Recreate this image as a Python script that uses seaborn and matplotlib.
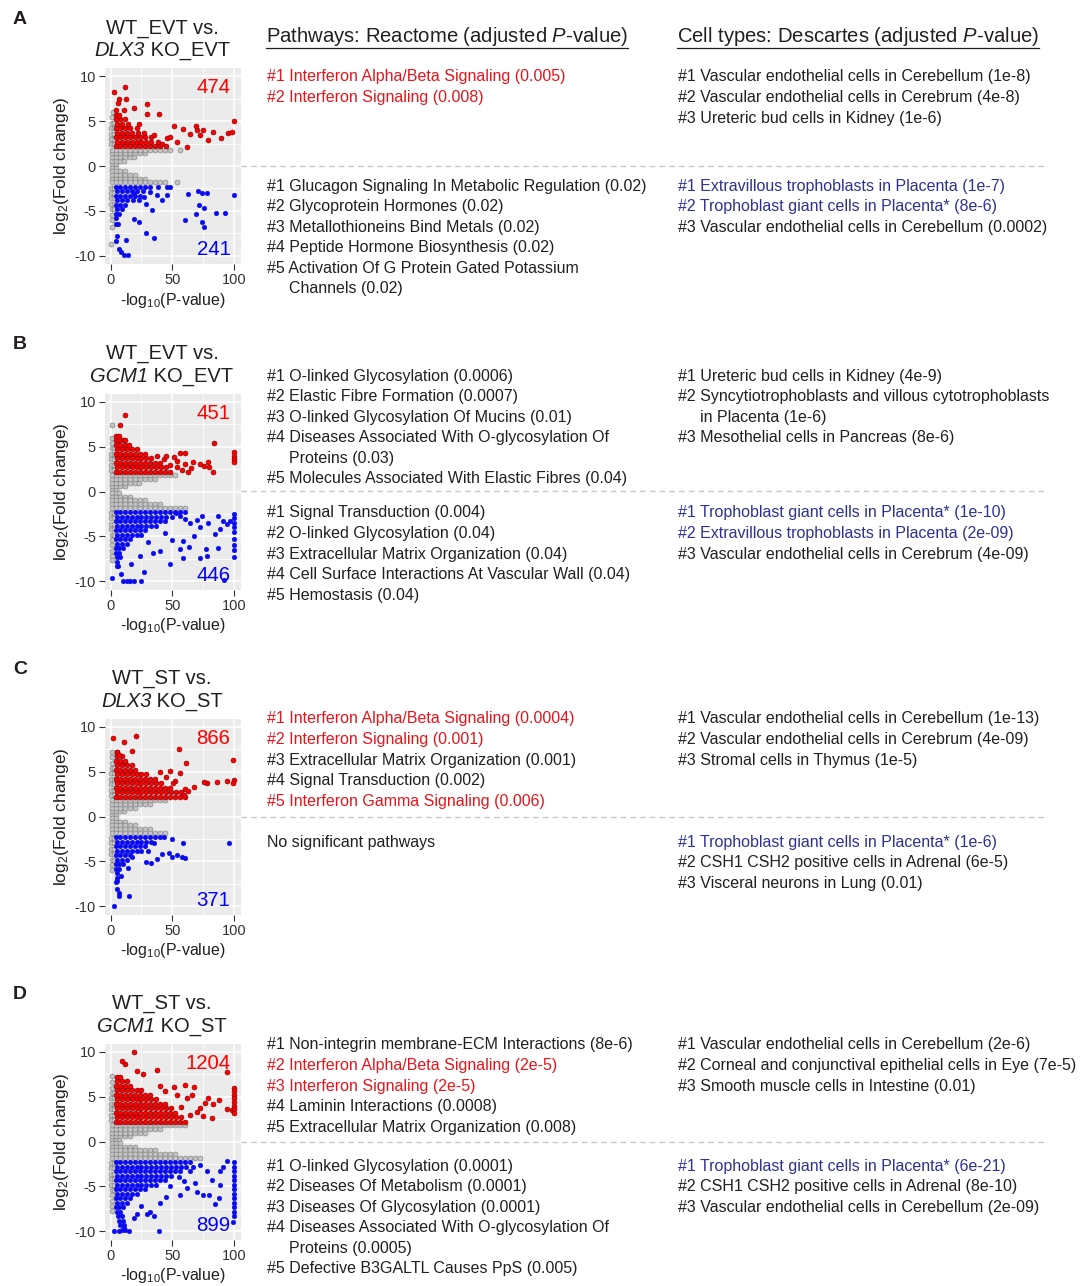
import matplotlib
matplotlib.use("Agg")
import matplotlib.pyplot as plt
import seaborn as sns
from matplotlib.lines import Line2D
from matplotlib.ticker import MultipleLocator

# fonts: Arial-like text, italic P through mathtext
plt.rcParams['font.family'] = ['Liberation Sans', 'DejaVu Sans']
plt.rcParams['mathtext.fontset'] = 'custom'
plt.rcParams['mathtext.rm'] = 'Liberation Sans'
plt.rcParams['mathtext.it'] = 'Liberation Sans:italic'
plt.rcParams['mathtext.bf'] = 'Liberation Sans:bold'
plt.rcParams['axes.unicode_minus'] = False

# ---------------- volcano data ----------------
# rows: (log2FC, [-log10 P values ...]); extras: (x, y) pairs
a_gray = [(0.2, [1, 4]), (0.6, [1, 4, 8, 11]), (1.0, [1, 4, 8, 12, 16, 19]),
          (1.4, [1, 4, 8, 12, 16, 20, 24, 28]),
          (1.8, [1, 4, 8, 12, 16, 20, 24, 28, 32, 36, 40, 44, 48, 56]),
          (2.4, [0.5, 2.5]), (3.0, [0.5, 2.5]), (3.6, [0.5, 2.5]), (4.2, [0.5, 2.5]),
          (4.8, [1, 2.5]), (5.4, [1.5]), (6.0, [2]),
          (-0.2, [1, 4]), (-0.6, [1, 4, 8, 12]), (-1.0, [1, 4, 8, 12, 16, 20]),
          (-1.4, [1, 4, 8, 12, 16, 20, 24, 28]),
          (-1.8, [1, 4, 8, 12, 16, 20, 24, 28, 32, 36, 40, 44, 54]),
          (-2.4, [0.5, 2.5]), (-3.0, [0.5, 2.5]), (-3.6, [0.5, 2.5]), (-4.2, [0.5, 2.5]),
          (-4.8, [1, 2.5]), (-5.4, [1.5]), (-6.0, [1]), (-6.8, [1]), (-8.7, [0])]
a_red = [(2.2, [4, 8, 12, 16, 20, 24, 28, 32, 36, 40, 45]),
         (2.7, [5, 9, 13, 17, 21, 25, 29, 33, 38]),
         (3.2, [4, 8, 12, 16, 20, 24, 28, 33]),
         (3.7, [5, 9, 13, 17, 22, 27]), (4.2, [4, 8, 12, 16, 21]),
         (4.7, [5, 9, 14]), (5.2, [4, 8, 12]), (5.7, [4, 7]), (6.2, [4])]
a_red_extra = [(2.7, 8.2), (12, 8.8), (7.2, 7.5), (12.6, 7.5), (5.9, 7.0), (18.8, 6.4),
               (29.5, 6.9), (10.7, 6.2), (39, 5.8), (29.5, 5.8), (22.8, 4.7), (34.8, 3.4),
               (45.6, 3.1), (48, 3.2), (53.6, 2.7), (61.7, 2.1), (41.6, 2.5), (51, 4.5),
               (58.4, 4.1), (64.3, 3.6), (70.2, 4.0), (72.4, 3.5), (74.5, 4.0), (83, 3.8),
               (79, 2.9), (89, 3.1), (95, 3.7), (98, 3.8), (100, 5.0), (69, 4.4)]
a_blue = [(-2.3, [4, 8, 12, 16, 20, 24, 28, 32, 38, 46]),
          (-2.8, [5, 9, 13, 17, 21, 26]), (-3.3, [4, 8, 12, 16, 20, 24]),
          (-3.8, [5, 9, 13, 18]), (-4.3, [4, 8, 12]), (-4.8, [5, 9]),
          (-5.3, [4, 7]), (-5.8, [4]), (-6.4, [4, 6])]
a_blue_extra = [(5, -7.8), (4.8, -8.3), (7.2, -9.2), (8.8, -9.6), (10.7, -9.9), (14.2, -9.9),
                (12.3, -8.2), (28.7, -7.5), (35.4, -8.0), (18.8, -5.9), (22.8, -6.2),
                (60, -6.0), (73.7, -6.2), (75.6, -6.8), (85, -5.2), (92.5, -5.2), (69, -5.3),
                (71.8, -4.3), (75.6, -4.7), (63, -3.1), (71, -2.8), (73.7, -3.0), (77.7, -3.0),
                (100, -3.2), (33.8, -4.9), (28.7, -4.2), (41.6, -3.8), (45.6, -3.2),
                (48.3, -2.3), (37.5, -3.2), (32, -2.9), (26.8, -3.4), (23.3, -3.8), (18.8, -3.1)]

b_gray = [(0.2, [1, 4]), (0.6, [1, 4, 8, 12]), (1.0, [1, 4, 8, 12, 16, 20, 23]),
          (1.4, [1, 4, 8, 12, 16, 20, 24, 28, 32, 36]),
          (1.8, [1, 4, 8, 12, 16, 20, 24, 28, 32, 36, 40, 44, 48, 52]),
          (2.4, [0.5, 2.5]), (3.0, [0.5, 2.5]), (3.6, [0.5, 2.5]), (4.2, [0.5, 2.5]),
          (4.8, [1, 2.5]), (5.4, [1.5]), (6.0, [1]), (7.4, [1.3]),
          (-0.2, [1, 4, 7]), (-0.6, [1, 4, 8, 12, 16]),
          (-1.0, [1, 4, 8, 12, 16, 20, 24, 28]),
          (-1.4, [1, 4, 8, 12, 16, 20, 24, 28, 32, 36, 40]),
          (-1.8, [1, 4, 8, 12, 16, 20, 24, 28, 32, 36, 40, 44, 48, 52, 56, 60]),
          (-2.4, [0.5, 2.5]), (-3.0, [0.5, 2.5]), (-3.6, [0.5, 2.5]), (-4.2, [0.5, 2.5]),
          (-4.8, [1, 2.5]), (-5.4, [1.5]), (-6.0, [1]), (-6.6, [1]), (-7.2, [1]), (-7.6, [1])]
b_red = [(2.2, [4, 8, 12, 16, 20, 24, 28, 32, 36, 40, 44, 48]),
         (2.7, [5, 9, 13, 17, 21, 25, 29, 33, 37, 41, 45]),
         (3.2, [4, 8, 12, 16, 20, 24, 28, 32, 36, 40]),
         (3.7, [5, 9, 13, 17, 21, 25, 29, 33]), (4.2, [4, 8, 12, 16, 20, 24, 28]),
         (4.7, [5, 9, 13, 17, 21]), (5.2, [4, 8, 12, 15]), (5.7, [4, 7, 10]), (6.2, [4, 7])]
b_red_extra = [(12, 8.5), (8, 7.4), (11.3, 5.7), (83.6, 5.4), (100, 4.4), (100, 4.0),
               (100, 3.6), (100, 3.3), (51, 3.8), (56, 4.3), (60, 4.3), (60.6, 3.1),
               (53.6, 2.7), (57.6, 2.4), (62.5, 2.2), (67, 3.3), (72.4, 3.1), (75.6, 2.8),
               (79, 3.3), (83, 2.2), (80, 2.7), (43, 3.6), (44.8, 4.0), (48, 2.9), (37.5, 4.0),
               (54, 3.4), (65, 2.6)]
b_blue = [(-2.3, [4, 8, 12, 16, 20, 24, 28, 32, 36, 40, 44, 48, 52, 56, 60]),
          (-2.8, [5, 9, 13, 17, 21, 25, 29, 33, 37, 41, 45, 50]),
          (-3.3, [4, 8, 12, 16, 20, 24, 28, 32, 36, 40, 44]),
          (-3.8, [5, 9, 13, 17, 21, 25, 29, 33, 37]),
          (-4.3, [4, 8, 12, 16, 20, 24, 28]), (-4.8, [5, 9, 13, 17, 21, 25]),
          (-5.3, [4, 8, 12, 16]), (-5.8, [5, 9, 13]), (-6.3, [4, 7, 10]), (-6.8, [4, 7]),
          (-7.3, [5, 8]), (-7.8, [5]), (-8.3, [6])]
b_blue_extra = [(100, -2.5), (100, -3.0), (100, -3.5), (100, -4.0), (100, -4.5), (100, -5.3),
                (100, -6.0), (100, -6.5), (100, -7.3), (84.5, -4.7), (94, -3.6), (96.5, -3.3),
                (87, -6.3), (77, -6.4), (26.8, -8.9), (16.6, -8.1), (24, -7.2), (48, -8.1),
                (49.6, -5.4), (39.7, -6.6), (34.6, -6.8), (58.4, -7.4), (72.4, -7.4),
                (77.7, -7.2), (92, -9.8), (16, -10), (13.4, -10), (18.8, -10), (24.6, -10),
                (5.4, -8.3), (1.3, -9.6), (53, -2.4), (56, -2.7), (60, -3.1), (64, -3.5),
                (70, -3.2), (74, -2.7), (79, -3.5), (87, -2.7), (91, -3.3), (88.5, -4.2),
                (67.6, -5.0), (72.4, -4.0), (58.4, -5.5), (63.8, -6.2), (56, -6.4),
                (8.5, -9.2), (10, -10), (44, -4.6), (30, -5.6)]

c_gray = [(0.2, [1, 4]), (0.6, [1, 4, 8, 11]), (1.0, [1, 4, 8, 12, 16, 20]),
          (1.4, [1, 4, 8, 12, 16, 20, 24, 28, 32]),
          (1.8, [1, 4, 8, 12, 16, 20, 24, 28, 32, 36, 40, 44]),
          (2.4, [0.5, 2.5]), (3.0, [0.5, 2.5]), (3.6, [0.5, 2.5]), (4.2, [0.5, 2.5]),
          (4.8, [0.5, 2.5]), (5.4, [1, 2.5]), (6.0, [1.5]), (6.6, [1.5]), (7.2, [1.3]),
          (-0.2, [1, 4]), (-0.6, [1, 4, 8, 12]), (-1.0, [1, 4, 8, 12, 16, 20]),
          (-1.4, [1, 4, 8, 12, 16, 20, 24, 28, 32]),
          (-1.8, [1, 4, 8, 12, 16, 20, 24, 28, 32, 36, 40, 44]),
          (-2.4, [0.5, 2.5]), (-3.0, [0.5, 2.5]), (-3.6, [0.5, 2.5]), (-4.2, [0.5, 2.5]),
          (-4.8, [1, 2.5]), (-5.4, [1.5]), (-6.0, [1])]
c_red = [(2.2, [4, 8, 12, 16, 20, 24, 28, 32, 36, 40, 44, 48, 52, 56, 60]),
         (2.7, [5, 9, 13, 17, 21, 25, 29, 33, 37, 41, 45, 49, 53, 57]),
         (3.2, [4, 8, 12, 16, 20, 24, 28, 32, 36, 40, 44, 48]),
         (3.7, [5, 9, 13, 17, 21, 25, 29, 33, 37, 41]),
         (4.2, [4, 8, 12, 16, 20, 24, 28, 32, 36]),
         (4.7, [5, 9, 13, 17, 21, 25, 29]), (5.2, [4, 8, 12, 16, 20]),
         (5.7, [5, 9, 13, 17]), (6.2, [4, 8, 12]), (6.7, [5, 9]), (7.2, [5])]
c_red_extra = [(2, 8.7), (20.4, 9.0), (10.7, 8.3), (5.4, 7.2), (17.4, 7.3), (6.7, 6.8),
               (55, 7.5), (61, 5.9), (56, 4.8), (98.7, 6.3), (100, 4.1), (99, 3.7), (94, 4.0),
               (86, 3.8), (77.7, 3.7), (75.6, 3.8), (67.6, 3.3), (60.3, 3.1), (59, 2.4),
               (52, 4.0), (50.4, 3.7), (45, 4.4), (40, 5.0), (63, 2.8), (48, 5.1)]
c_blue = [(-2.3, [4, 8, 12, 16, 20, 24, 28, 32, 36, 40]),
          (-2.8, [5, 9, 13, 17, 21, 25, 29, 33]), (-3.3, [4, 8, 12, 16, 20, 24, 28]),
          (-3.8, [5, 9, 13, 17, 21, 25]), (-4.3, [4, 8, 12, 16]), (-4.8, [5, 9, 13]),
          (-5.3, [4, 7, 10]), (-5.8, [4, 7]), (-6.3, [5]), (-6.8, [5]), (-7.2, [5])]
c_blue_extra = [(2.7, -10), (15.3, -8.8), (7, -8.8), (5.4, -8.1), (4, -7.3), (8.8, -6.6),
                (14.2, -5.7), (17.7, -4.5), (28.7, -5.1), (32.7, -5.2), (37.5, -4.7),
                (41.6, -4.2), (47.5, -4.1), (49.6, -4.5), (53.6, -4.3), (57.6, -4.5),
                (60, -4.6), (58.4, -3.0), (49.6, -2.5), (42.9, -2.3), (95.4, -3.0),
                (30, -3.8), (35, -3.0), (6.5, -8.5)]

d_gray = [(0.2, [1, 4, 7]), (0.6, [1, 4, 8, 12, 16]), (1.0, [1, 4, 8, 12, 16, 20, 24, 28]),
          (1.4, [1, 4, 8, 12, 16, 20, 24, 28, 32, 36, 40]),
          (1.8, [1, 4, 8, 12, 16, 20, 24, 28, 32, 36, 40, 44, 48, 52, 56, 60]),
          (2.4, [0.5, 2.5]), (3.0, [0.5, 2.5]), (3.6, [0.5, 2.5]), (4.2, [0.5, 2.5]),
          (4.8, [0.5, 2.5]), (5.4, [1, 2.5]), (6.0, [1.5]), (6.6, [1.5]), (7.3, [1]),
          (-0.2, [1, 4, 8]), (-0.6, [1, 4, 8, 12, 16, 20]),
          (-1.0, [1, 4, 8, 12, 16, 20, 24, 28, 32, 36]),
          (-1.4, [1, 4, 8, 12, 16, 20, 24, 28, 32, 36, 40, 44, 48, 52]),
          (-1.8, [1, 4, 8, 12, 16, 20, 24, 28, 32, 36, 40, 44, 48, 52, 56, 60, 64, 68, 72]),
          (-2.4, [0.5, 2.5]), (-3.0, [0.5, 2.5]), (-3.6, [0.5, 2.5]), (-4.2, [0.5, 2.5]),
          (-4.8, [0.5, 2.5]), (-5.4, [1, 2.5]), (-6.0, [1.5]), (-6.6, [1]), (-7.2, [1]),
          (-7.7, [1])]
d_red = [(2.2, [4, 8, 12, 16, 20, 24, 28, 32, 36, 40, 44, 48, 52, 56, 60]),
         (2.7, [5, 9, 13, 17, 21, 25, 29, 33, 37, 41, 45, 49, 53, 57]),
         (3.2, [4, 8, 12, 16, 20, 24, 28, 32, 36, 40, 44, 48, 52]),
         (3.7, [5, 9, 13, 17, 21, 25, 29, 33, 37, 41, 45, 49]),
         (4.2, [4, 8, 12, 16, 20, 24, 28, 32, 36, 40, 44]),
         (4.7, [5, 9, 13, 17, 21, 25, 29, 33, 37]),
         (5.2, [4, 8, 12, 16, 20, 24, 28, 32]),
         (5.7, [5, 9, 13, 17, 21, 25]), (6.2, [4, 8, 12, 16]),
         (6.7, [5, 9, 13]), (7.2, [5, 8])]
d_red_extra = [(18.8, 10.0), (12, 8.6), (9.4, 9.0), (21, 7.85), (26.3, 7.5), (37.5, 8.0),
               (93.8, 7.7), (51, 6.1), (60.3, 6.3), (67.8, 6.1), (53.6, 5.2), (61.7, 4.8),
               (79, 4.8), (87.4, 4.6), (72.4, 3.7), (83.1, 4.2), (93.8, 3.6), (97.9, 3.5),
               (75, 2.8), (81.8, 2.6), (69.7, 3.3), (65.7, 5.2), (76.4, 4.3),
               (100, 6.0), (100, 5.6), (100, 5.2), (100, 4.8), (100, 4.4), (100, 4.0),
               (100, 3.6), (100, 3.2), (44, 5.6), (40, 6.2), (57, 3.8), (64, 3.0)]
d_blue = [(-2.3, [4, 8, 12, 16, 20, 24, 28, 32, 36, 40, 44, 48, 52, 56, 60, 64]),
          (-2.8, [5, 9, 13, 17, 21, 25, 29, 33, 37, 41, 45, 49, 53, 57, 61]),
          (-3.3, [4, 8, 12, 16, 20, 24, 28, 32, 36, 40, 44, 48, 52, 56]),
          (-3.8, [5, 9, 13, 17, 21, 25, 29, 33, 37, 41, 45, 49]),
          (-4.3, [4, 8, 12, 16, 20, 24, 28, 32, 36, 40, 44]),
          (-4.8, [5, 9, 13, 17, 21, 25, 29, 33, 37]),
          (-5.3, [4, 8, 12, 16, 20, 24, 28]), (-5.8, [5, 9, 13, 17, 21]),
          (-6.3, [4, 8, 12, 16]), (-6.8, [5, 9, 13]), (-7.3, [4, 7, 10]),
          (-7.8, [5, 8]), (-8.3, [6, 9]), (-8.8, [7, 10]), (-9.3, [8, 11]), (-9.8, [9, 12])]
d_blue_extra = [(2.7, -10), (6.7, -10), (14.7, -10), (38.9, -10), (10.7, -9.6), (18.8, -8.5),
                (21, -8.1), (29.5, -8.1), (34.8, -8.3), (32, -7.8), (56.3, -6), (75, -6),
                (80, -5.9), (88.5, -4.8), (84.5, -7.0), (87.4, -6.3), (99, -8.9), (55.5, -3.9),
                (59, -4.4), (64.3, -3.3), (67, -2.8), (72.4, -2.6), (77.7, -3.3), (81.8, -4.3),
                (88.5, -3.3), (93.8, -2.2), (91, -2.8), (100, -2.3), (100, -2.8), (100, -3.3),
                (100, -3.8), (100, -4.3), (100, -4.8), (100, -5.3), (100, -5.8), (100, -6.3),
                (100, -6.8), (100, -7.3), (100, -7.8), (100, -8.3), (68, -4.6), (62, -5.2),
                (70, -5.6), (45, -6.2), (48, -4.9), (25, -7.2), (40, -6.8)]

up_counts = ['474', '451', '866', '1204']
down_counts = ['241', '446', '371', '899']

# title: first line, italic gene, rest of second line
titles = [('WT_EVT vs.', 'DLX3', ' KO_EVT'), ('WT_EVT vs.', 'GCM1', ' KO_EVT'),
          ('WT_ST vs.', 'DLX3', ' KO_ST'), ('WT_ST vs.', 'GCM1', ' KO_ST')]
letters = ['A', 'B', 'C', 'D']

# ---------------- enrichment text ----------------
a_path_up = [("#1 Interferon Alpha/Beta Signaling (0.005)", "red"),
             ("#2 Interferon Signaling (0.008)", "red")]
a_path_down = [("#1 Glucagon Signaling In Metabolic Regulation (0.02)", "black"),
               ("#2 Glycoprotein Hormones (0.02)", "black"),
               ("#3 Metallothioneins Bind Metals (0.02)", "black"),
               ("#4 Peptide Hormone Biosynthesis (0.02)", "black"),
               ("#5 Activation Of G Protein Gated Potassium", "black"),
               ("Channels (0.02)", "black")]
a_cell_up = [("#1 Vascular endothelial cells in Cerebellum (1e-8)", "black"),
             ("#2 Vascular endothelial cells in Cerebrum (4e-8)", "black"),
             ("#3 Ureteric bud cells in Kidney (1e-6)", "black")]
a_cell_down = [("#1 Extravillous trophoblasts in Placenta (1e-7)", "navy"),
               ("#2 Trophoblast giant cells in Placenta* (8e-6)", "navy"),
               ("#3 Vascular endothelial cells in Cerebellum (0.0002)", "black")]

b_path_up = [("#1 O-linked Glycosylation (0.0006)", "black"),
             ("#2 Elastic Fibre Formation (0.0007)", "black"),
             ("#3 O-linked Glycosylation Of Mucins (0.01)", "black"),
             ("#4 Diseases Associated With O-glycosylation Of", "black"),
             ("Proteins (0.03)", "black"),
             ("#5 Molecules Associated With Elastic Fibres (0.04)", "black")]
b_path_down = [("#1 Signal Transduction (0.004)", "black"),
               ("#2 O-linked Glycosylation (0.04)", "black"),
               ("#3 Extracellular Matrix Organization (0.04)", "black"),
               ("#4 Cell Surface Interactions At Vascular Wall (0.04)", "black"),
               ("#5 Hemostasis (0.04)", "black")]
b_cell_up = [("#1 Ureteric bud cells in Kidney (4e-9)", "black"),
             ("#2 Syncytiotrophoblasts and villous cytotrophoblasts", "black"),
             ("in Placenta (1e-6)", "black"),
             ("#3 Mesothelial cells in Pancreas (8e-6)", "black")]
b_cell_down = [("#1 Trophoblast giant cells in Placenta* (1e-10)", "navy"),
               ("#2 Extravillous trophoblasts in Placenta (2e-09)", "navy"),
               ("#3 Vascular endothelial cells in Cerebrum (4e-09)", "black")]

c_path_up = [("#1 Interferon Alpha/Beta Signaling (0.0004)", "red"),
             ("#2 Interferon Signaling (0.001)", "red"),
             ("#3 Extracellular Matrix Organization (0.001)", "black"),
             ("#4 Signal Transduction (0.002)", "black"),
             ("#5 Interferon Gamma Signaling (0.006)", "red")]
c_path_down = [("No significant pathways", "black")]
c_cell_up = [("#1 Vascular endothelial cells in Cerebellum (1e-13)", "black"),
             ("#2 Vascular endothelial cells in Cerebrum (4e-09)", "black"),
             ("#3 Stromal cells in Thymus (1e-5)", "black")]
c_cell_down = [("#1 Trophoblast giant cells in Placenta* (1e-6)", "navy"),
               ("#2 CSH1 CSH2 positive cells in Adrenal (6e-5)", "black"),
               ("#3 Visceral neurons in Lung (0.01)", "black")]

d_path_up = [("#1 Non-integrin membrane-ECM Interactions (8e-6)", "black"),
             ("#2 Interferon Alpha/Beta Signaling (2e-5)", "red"),
             ("#3 Interferon Signaling (2e-5)", "red"),
             ("#4 Laminin Interactions (0.0008)", "black"),
             ("#5 Extracellular Matrix Organization (0.008)", "black")]
d_path_down = [("#1 O-linked Glycosylation (0.0001)", "black"),
               ("#2 Diseases Of Metabolism (0.0001)", "black"),
               ("#3 Diseases Of Glycosylation (0.0001)", "black"),
               ("#4 Diseases Associated With O-glycosylation Of", "black"),
               ("Proteins (0.0005)", "black"),
               ("#5 Defective B3GALTL Causes PpS (0.005)", "black")]
d_cell_up = [("#1 Vascular endothelial cells in Cerebellum (2e-6)", "black"),
             ("#2 Corneal and conjunctival epithelial cells in Eye (7e-5)", "black"),
             ("#3 Smooth muscle cells in Intestine (0.01)", "black")]
d_cell_down = [("#1 Trophoblast giant cells in Placenta* (6e-21)", "navy"),
               ("#2 CSH1 CSH2 positive cells in Adrenal (8e-10)", "black"),
               ("#3 Vascular endothelial cells in Cerebellum (2e-09)", "black")]

text_colors = {"red": "#E8141C", "navy": "#2E3192", "black": "#231F20"}


def unpack(rows, extra=()):
    xs = [x for y, row in rows for x in row] + [p[0] for p in extra]
    ys = [y for y, row in rows for _ in row] + [p[1] for p in extra]
    return xs, ys


panels = [
    dict(gray=a_gray, red=(a_red, a_red_extra), blue=(a_blue, a_blue_extra),
         texts=(a_path_up, a_path_down, a_cell_up, a_cell_down), top=68, up_y=77, down_y=186),
    dict(gray=b_gray, red=(b_red, b_red_extra), blue=(b_blue, b_blue_extra),
         texts=(b_path_up, b_path_down, b_cell_up, b_cell_down), top=393.5, up_y=376, down_y=513),
    dict(gray=c_gray, red=(c_red, c_red_extra), blue=(c_blue, c_blue_extra),
         texts=(c_path_up, c_path_down, c_cell_up, c_cell_down), top=718.5, up_y=719, down_y=842),
    dict(gray=d_gray, red=(d_red, d_red_extra), blue=(d_blue, d_blue_extra),
         texts=(d_path_up, d_path_down, d_cell_up, d_cell_down), top=1043.5, up_y=1045, down_y=1166),
]

# ---------------- figure ----------------
W, H = 1082, 1286
fig = plt.figure(figsize=(W / 100, H / 100), dpi=100)
r = fig.canvas.get_renderer()


def fx(x):
    return x / W


def fy(y):
    return 1 - y / H


AX_L, AX_W, AX_H = 105, 136, 196
LINE = 20.6
BODY = 11.5
TITLE = 14.5
INK = '#231F20'

for i, p in enumerate(panels):
    top = p['top']
    ax = fig.add_axes([fx(AX_L), fy(top + AX_H), AX_W / W, AX_H / H])
    ax.set_facecolor('#EBEBEB')

    gx, gy = unpack(p['gray'])
    sns.scatterplot(x=gx, y=gy, ax=ax, s=13, color='#C4C4C4', edgecolor='#6E6E6E',
                    linewidth=0.35, legend=False, zorder=3)
    rx, ry = unpack(*p['red'])
    sns.scatterplot(x=rx, y=ry, ax=ax, s=13, color='#FF0000', edgecolor='#5A0000',
                    linewidth=0.35, legend=False, zorder=4)
    bx, by = unpack(*p['blue'])
    sns.scatterplot(x=bx, y=by, ax=ax, s=12, color='#0A0AF0', edgecolor='#0A0AF0',
                    linewidth=0.2, legend=False, zorder=5)

    ax.set_xlim(-4.5, 105.5)
    ax.set_ylim(-10.9, 10.9)
    ax.set_xticks([0, 50, 100])
    ax.set_yticks([-10, -5, 0, 5, 10])
    ax.xaxis.set_minor_locator(MultipleLocator(25))
    ax.yaxis.set_minor_locator(MultipleLocator(2.5))
    ax.grid(which='major', color='white', lw=1.1)
    ax.grid(which='minor', color='white', lw=0.55)
    ax.set_axisbelow(True)
    for s in ax.spines.values():
        s.set_visible(False)
    ax.tick_params(which='minor', length=0)
    ax.tick_params(which='major', length=4, width=0.8, color='#333333',
                   labelcolor='#333333', labelsize=10.5, pad=2.5)

    ax.set_xlabel('-log$_{10}$(P-value)', fontsize=11.5, color=INK, va='center')
    ax.xaxis.set_label_coords(0.5, -(232 - AX_H) / AX_H)
    ax.set_ylabel('log$_2$(Fold change)', fontsize=12.5, color=INK, va='center')
    ax.yaxis.set_label_coords((62 - AX_L) / AX_W, 0.5)

    ax.text(97, 8.7, up_counts[i], color='#FF0000', fontsize=14.7, ha='right', va='center')
    ax.text(97, -9.3, down_counts[i], color='#0000FF', fontsize=14.7, ha='right', va='center')

    # panel letter + two-line title (gene name in italics)
    fig.text(fx(20), fy(top - 49), letters[i], fontsize=14, fontweight='bold',
             ha='center', va='center', color=INK)
    fig.text(fx(162), fy(top - 40), titles[i][0], fontsize=TITLE, ha='center', va='center',
             color=INK)
    gene = fig.text(0, fy(top - 17), titles[i][1], fontsize=TITLE, style='italic',
                    ha='left', va='center', color=INK)
    rest = fig.text(0, fy(top - 17), titles[i][2], fontsize=TITLE, ha='left', va='center',
                    color=INK)
    w_gene = gene.get_window_extent(r).width
    w_rest = rest.get_window_extent(r).width
    x_start = 162 - (w_gene + w_rest) / 2
    gene.set_x(fx(x_start))
    rest.set_x(fx(x_start + w_gene))

    # dashed separator at log2FC = 0
    fig.add_artist(Line2D([fx(241), fx(1047)], [fy(top + 98)] * 2, color='#C8C8C8',
                          lw=1.0, ls=(0, (4, 3))))

    # enrichment text blocks
    path_up, path_down, cell_up, cell_down = p['texts']
    for block, x0, y0 in [(path_up, 267, p['up_y']), (path_down, 267, p['down_y']),
                          (cell_up, 678, p['up_y']), (cell_down, 678, p['down_y'])]:
        for k, (txt, col) in enumerate(block):
            xx = x0 if txt.startswith('#') or txt.startswith('No') else x0 + 22
            fig.text(fx(xx), fy(y0 + k * LINE), txt, fontsize=BODY, color=text_colors[col],
                     ha='left', va='center')

# column headers with underline
hdrs = [fig.text(fx(266), fy(37), 'Pathways: Reactome (adjusted $P$-value)', fontsize=14.6,
                 ha='left', va='center', color=INK),
        fig.text(fx(677), fy(37), 'Cell types: Descartes (adjusted $P$-value)', fontsize=14.6,
                 ha='left', va='center', color=INK)]
for t in hdrs:
    bb = t.get_window_extent(r)
    fig.add_artist(Line2D([bb.x0 / W, bb.x1 / W], [fy(47.5)] * 2, color=INK, lw=0.9))

fig.savefig('out.png', dpi=100)
